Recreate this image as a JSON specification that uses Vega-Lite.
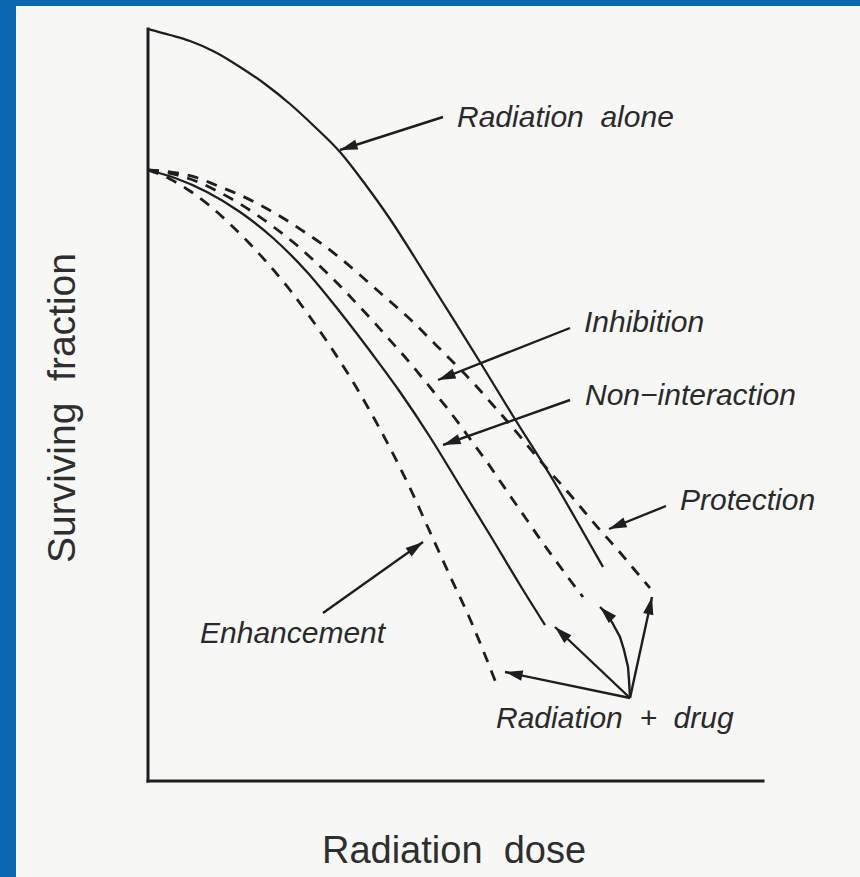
{
  "$schema": "https://vega.github.io/schema/vega-lite/v6.json",
  "width": 860,
  "height": 877,
  "autosize": {"type": "fit", "contains": "padding"},
  "padding": {"left": 16, "top": 6, "right": 0, "bottom": 0},
  "background": "#0a67b1",
  "config": {"view": {"fill": "#f7f7f6", "stroke": null}},
  "datasets": {
    "axes": [
      {"x": 0, "y": 0, "x2": 61.5, "y2": 0},
      {"x": 0, "y": 0, "x2": 0, "y2": 75.2}
    ],
    "curves": [
      {"series": "Radiation alone", "x": 0, "y": 75.2},
      {"series": "Radiation alone", "x": 2.2, "y": 74.6},
      {"series": "Radiation alone", "x": 4.2, "y": 74.0},
      {"series": "Radiation alone", "x": 6.7, "y": 72.9},
      {"series": "Radiation alone", "x": 9.2, "y": 71.4},
      {"series": "Radiation alone", "x": 11.7, "y": 69.7},
      {"series": "Radiation alone", "x": 14.2, "y": 67.7},
      {"series": "Radiation alone", "x": 16.7, "y": 65.4},
      {"series": "Radiation alone", "x": 19.2, "y": 62.9},
      {"series": "Radiation alone", "x": 21.7, "y": 59.7},
      {"series": "Radiation alone", "x": 24.2, "y": 56.2},
      {"series": "Radiation alone", "x": 26.7, "y": 52.3},
      {"series": "Radiation alone", "x": 29.2, "y": 48.3},
      {"series": "Radiation alone", "x": 33.2, "y": 41.9},
      {"series": "Radiation alone", "x": 36.5, "y": 36.5},
      {"series": "Radiation alone", "x": 40.5, "y": 30.1},
      {"series": "Radiation alone", "x": 43.0, "y": 25.8},
      {"series": "Radiation alone", "x": 45.5, "y": 21.4},
      {"series": "Non-interaction", "x": 0, "y": 61.1},
      {"series": "Non-interaction", "x": 2.7, "y": 60.3},
      {"series": "Non-interaction", "x": 5.9, "y": 58.9},
      {"series": "Non-interaction", "x": 9.2, "y": 56.9},
      {"series": "Non-interaction", "x": 12.5, "y": 54.3},
      {"series": "Non-interaction", "x": 15.9, "y": 50.9},
      {"series": "Non-interaction", "x": 19.2, "y": 46.9},
      {"series": "Non-interaction", "x": 22.5, "y": 42.6},
      {"series": "Non-interaction", "x": 25.2, "y": 38.9},
      {"series": "Non-interaction", "x": 28.2, "y": 34.4},
      {"series": "Non-interaction", "x": 31.2, "y": 29.5},
      {"series": "Non-interaction", "x": 34.2, "y": 24.6},
      {"series": "Non-interaction", "x": 37.2, "y": 19.6},
      {"series": "Non-interaction", "x": 39.7, "y": 15.6},
      {"series": "Enhancement", "x": 0, "y": 61.1},
      {"series": "Enhancement", "x": 2.2, "y": 60.2},
      {"series": "Enhancement", "x": 4.2, "y": 59.0},
      {"series": "Enhancement", "x": 6.2, "y": 57.5},
      {"series": "Enhancement", "x": 8.2, "y": 55.7},
      {"series": "Enhancement", "x": 10.2, "y": 53.7},
      {"series": "Enhancement", "x": 12.2, "y": 51.5},
      {"series": "Enhancement", "x": 14.2, "y": 49.1},
      {"series": "Enhancement", "x": 16.2, "y": 46.4},
      {"series": "Enhancement", "x": 18.2, "y": 43.5},
      {"series": "Enhancement", "x": 20.2, "y": 40.4},
      {"series": "Enhancement", "x": 22.2, "y": 37.0},
      {"series": "Enhancement", "x": 24.2, "y": 33.3},
      {"series": "Enhancement", "x": 26.2, "y": 29.3},
      {"series": "Enhancement", "x": 28.2, "y": 24.9},
      {"series": "Enhancement", "x": 30.2, "y": 20.5},
      {"series": "Enhancement", "x": 32.2, "y": 16.2},
      {"series": "Enhancement", "x": 35.0, "y": 9.3},
      {"series": "Inhibition", "x": 0, "y": 61.1},
      {"series": "Inhibition", "x": 2.9, "y": 60.6},
      {"series": "Inhibition", "x": 5.0, "y": 59.9},
      {"series": "Inhibition", "x": 6.9, "y": 59.0},
      {"series": "Inhibition", "x": 8.9, "y": 57.9},
      {"series": "Inhibition", "x": 10.9, "y": 56.6},
      {"series": "Inhibition", "x": 12.7, "y": 55.3},
      {"series": "Inhibition", "x": 14.5, "y": 53.9},
      {"series": "Inhibition", "x": 16.2, "y": 52.4},
      {"series": "Inhibition", "x": 17.9, "y": 50.8},
      {"series": "Inhibition", "x": 19.5, "y": 49.2},
      {"series": "Inhibition", "x": 21.0, "y": 47.6},
      {"series": "Inhibition", "x": 22.5, "y": 46.0},
      {"series": "Inhibition", "x": 24.0, "y": 44.3},
      {"series": "Inhibition", "x": 25.7, "y": 42.4},
      {"series": "Inhibition", "x": 27.2, "y": 40.6},
      {"series": "Inhibition", "x": 28.5, "y": 39.0},
      {"series": "Inhibition", "x": 29.9, "y": 37.3},
      {"series": "Inhibition", "x": 31.2, "y": 35.6},
      {"series": "Inhibition", "x": 32.5, "y": 33.8},
      {"series": "Inhibition", "x": 33.9, "y": 31.9},
      {"series": "Inhibition", "x": 35.2, "y": 30.0},
      {"series": "Inhibition", "x": 36.5, "y": 28.1},
      {"series": "Inhibition", "x": 37.9, "y": 26.1},
      {"series": "Inhibition", "x": 39.2, "y": 24.2},
      {"series": "Inhibition", "x": 40.5, "y": 22.4},
      {"series": "Inhibition", "x": 41.9, "y": 20.5},
      {"series": "Inhibition", "x": 43.5, "y": 18.4},
      {"series": "Protection", "x": 0, "y": 61.1},
      {"series": "Protection", "x": 2.9, "y": 60.8},
      {"series": "Protection", "x": 5.0, "y": 60.3},
      {"series": "Protection", "x": 7.0, "y": 59.5},
      {"series": "Protection", "x": 9.2, "y": 58.6},
      {"series": "Protection", "x": 11.4, "y": 57.5},
      {"series": "Protection", "x": 13.5, "y": 56.3},
      {"series": "Protection", "x": 15.5, "y": 55.0},
      {"series": "Protection", "x": 17.4, "y": 53.7},
      {"series": "Protection", "x": 19.2, "y": 52.3},
      {"series": "Protection", "x": 21.2, "y": 50.6},
      {"series": "Protection", "x": 22.9, "y": 49.1},
      {"series": "Protection", "x": 24.5, "y": 47.7},
      {"series": "Protection", "x": 26.4, "y": 46.0},
      {"series": "Protection", "x": 28.0, "y": 44.4},
      {"series": "Protection", "x": 29.7, "y": 42.7},
      {"series": "Protection", "x": 31.2, "y": 41.2},
      {"series": "Protection", "x": 32.9, "y": 39.4},
      {"series": "Protection", "x": 34.4, "y": 37.7},
      {"series": "Protection", "x": 35.9, "y": 36.0},
      {"series": "Protection", "x": 37.5, "y": 34.1},
      {"series": "Protection", "x": 38.9, "y": 32.4},
      {"series": "Protection", "x": 40.2, "y": 30.9},
      {"series": "Protection", "x": 41.9, "y": 29.0},
      {"series": "Protection", "x": 43.5, "y": 27.1},
      {"series": "Protection", "x": 45.2, "y": 25.1},
      {"series": "Protection", "x": 46.9, "y": 23.2},
      {"series": "Protection", "x": 48.5, "y": 21.3},
      {"series": "Protection", "x": 50.2, "y": 19.3}
    ],
    "arrows": [
      {"target": "Radiation alone", "x": 29.5, "y": 66.4, "x2": 19.2, "y2": 63.1},
      {"target": "Inhibition", "x": 42.2, "y": 45.3, "x2": 29.0, "y2": 40.1},
      {"target": "Non-interaction", "x": 42.2, "y": 38.1, "x2": 29.5, "y2": 33.6},
      {"target": "Protection", "x": 51.8, "y": 27.5, "x2": 46.1, "y2": 25.2},
      {"target": "Enhancement", "x": 17.5, "y": 16.8, "x2": 27.5, "y2": 23.9},
      {"target": "Drug to enhancement", "x": 48.2, "y": 8.3, "x2": 35.7, "y2": 10.9},
      {"target": "Drug to non-interaction", "x": 48.2, "y": 8.3, "x2": 40.7, "y2": 15.4},
      {"target": "Drug to protection", "x": 48.2, "y": 8.3, "x2": 50.4, "y2": 18.4},
      {"target": "Drug to inhibition", "x": 45.9, "y": 16.7, "x2": 45.2, "y2": 17.4}
    ],
    "curvedArrow": [
      {"order": 1, "x": 48.2, "y": 8.3},
      {"order": 2, "x": 48.1, "y": 10.1},
      {"order": 3, "x": 48.0, "y": 11.4},
      {"order": 4, "x": 47.6, "y": 13.1},
      {"order": 5, "x": 47.2, "y": 14.4},
      {"order": 6, "x": 46.5, "y": 15.7},
      {"order": 7, "x": 45.9, "y": 16.7}
    ],
    "labels": [
      {"text": "Radiation\u00a0\u00a0alone", "x": 30.9, "y": 65.4},
      {"text": "Inhibition", "x": 43.6, "y": 44.9},
      {"text": "Non−interaction", "x": 43.7, "y": 37.6},
      {"text": "Protection", "x": 53.2, "y": 27.1},
      {"text": "Enhancement", "x": 5.2, "y": 13.8},
      {"text": "Radiation\u00a0\u00a0+\u00a0\u00a0drug", "x": 34.8, "y": 5.3}
    ],
    "xtitle": [{"text": "Radiation\u00a0\u00a0dose", "x": 30.6, "y": -8.2}],
    "ytitle": [{"text": "Surviving\u00a0\u00a0fraction", "x": -7.3, "y": 37.3}]
  },
  "layer": [
    {
      "data": {"name": "axes"},
      "mark": {"type": "rule", "color": "#1e1e1e", "strokeWidth": 3, "strokeCap": "square"},
      "encoding": {
        "x": {"field": "x", "type": "quantitative", "scale": {"domain": [-13.2, 71.2], "nice": false, "zero": false}, "axis": null},
        "y": {"field": "y", "type": "quantitative", "scale": {"domain": [-9.6, 77.5], "nice": false, "zero": false}, "axis": null},
        "x2": {"field": "x2"},
        "y2": {"field": "y2"}
      }
    },
    {
      "data": {"name": "curves"},
      "transform": [{"filter": "datum.series === 'Radiation alone' || datum.series === 'Non-interaction'"}],
      "mark": {"type": "line", "color": "#1e1e1e", "strokeWidth": 2.3, "interpolate": "monotone"},
      "encoding": {
        "x": {"field": "x", "type": "quantitative", "scale": {"domain": [-13.2, 71.2], "nice": false, "zero": false}, "axis": null},
        "y": {"field": "y", "type": "quantitative", "scale": {"domain": [-9.6, 77.5], "nice": false, "zero": false}, "axis": null},
        "detail": {"field": "series"}
      }
    },
    {
      "data": {"name": "curves"},
      "transform": [{"filter": "datum.series !== 'Radiation alone' && datum.series !== 'Non-interaction'"}],
      "mark": {"type": "line", "color": "#1e1e1e", "strokeWidth": 2.8, "strokeDash": [11, 9], "interpolate": "monotone"},
      "encoding": {
        "x": {"field": "x", "type": "quantitative", "scale": {"domain": [-13.2, 71.2], "nice": false, "zero": false}, "axis": null},
        "y": {"field": "y", "type": "quantitative", "scale": {"domain": [-9.6, 77.5], "nice": false, "zero": false}, "axis": null},
        "detail": {"field": "series"}
      }
    },
    {
      "data": {"name": "arrows"},
      "mark": {"type": "rule", "color": "#1e1e1e", "strokeWidth": 2.4},
      "encoding": {
        "x": {"field": "x", "type": "quantitative", "scale": {"domain": [-13.2, 71.2], "nice": false, "zero": false}, "axis": null},
        "y": {"field": "y", "type": "quantitative", "scale": {"domain": [-9.6, 77.5], "nice": false, "zero": false}, "axis": null},
        "x2": {"field": "x2"},
        "y2": {"field": "y2"}
      }
    },
    {
      "data": {"name": "curvedArrow"},
      "mark": {"type": "line", "color": "#1e1e1e", "strokeWidth": 2.4, "interpolate": "linear"},
      "encoding": {
        "x": {"field": "x", "type": "quantitative", "scale": {"domain": [-13.2, 71.2], "nice": false, "zero": false}, "axis": null},
        "y": {"field": "y", "type": "quantitative", "scale": {"domain": [-9.6, 77.5], "nice": false, "zero": false}, "axis": null},
        "order": {"field": "order"}
      }
    },
    {
      "data": {"name": "arrows"},
      "transform": [{"calculate": "atan2(datum.x2 - datum.x, datum.y2 - datum.y) * 180 / PI", "as": "heading"}],
      "mark": {"type": "point", "shape": "M0,0L1.3,4.4L-1.3,4.4Z", "filled": true, "color": "#1e1e1e", "opacity": 1, "size": 64},
      "encoding": {
        "x": {"field": "x2", "type": "quantitative", "scale": {"domain": [-13.2, 71.2], "nice": false, "zero": false}, "axis": null},
        "y": {"field": "y2", "type": "quantitative", "scale": {"domain": [-9.6, 77.5], "nice": false, "zero": false}, "axis": null},
        "angle": {"field": "heading", "type": "quantitative", "scale": null}
      }
    },
    {
      "data": {"name": "labels"},
      "mark": {"type": "text", "font": "Liberation Sans", "fontStyle": "italic", "fontSize": 30, "color": "#2a2a2a", "align": "left", "baseline": "alphabetic"},
      "encoding": {
        "x": {"field": "x", "type": "quantitative", "scale": {"domain": [-13.2, 71.2], "nice": false, "zero": false}, "axis": null},
        "y": {"field": "y", "type": "quantitative", "scale": {"domain": [-9.6, 77.5], "nice": false, "zero": false}, "axis": null},
        "text": {"field": "text"}
      }
    },
    {
      "data": {"name": "xtitle"},
      "mark": {"type": "text", "font": "Liberation Sans", "fontSize": 38, "color": "#2e2e2e", "align": "center", "baseline": "alphabetic"},
      "encoding": {
        "x": {"field": "x", "type": "quantitative", "scale": {"domain": [-13.2, 71.2], "nice": false, "zero": false}, "axis": null},
        "y": {"field": "y", "type": "quantitative", "scale": {"domain": [-9.6, 77.5], "nice": false, "zero": false}, "axis": null},
        "text": {"field": "text"}
      }
    },
    {
      "data": {"name": "ytitle"},
      "mark": {"type": "text", "font": "Liberation Sans", "fontSize": 39, "color": "#2e2e2e", "align": "center", "baseline": "alphabetic", "angle": 270},
      "encoding": {
        "x": {"field": "x", "type": "quantitative", "scale": {"domain": [-13.2, 71.2], "nice": false, "zero": false}, "axis": null},
        "y": {"field": "y", "type": "quantitative", "scale": {"domain": [-9.6, 77.5], "nice": false, "zero": false}, "axis": null},
        "text": {"field": "text"}
      }
    }
  ]
}
